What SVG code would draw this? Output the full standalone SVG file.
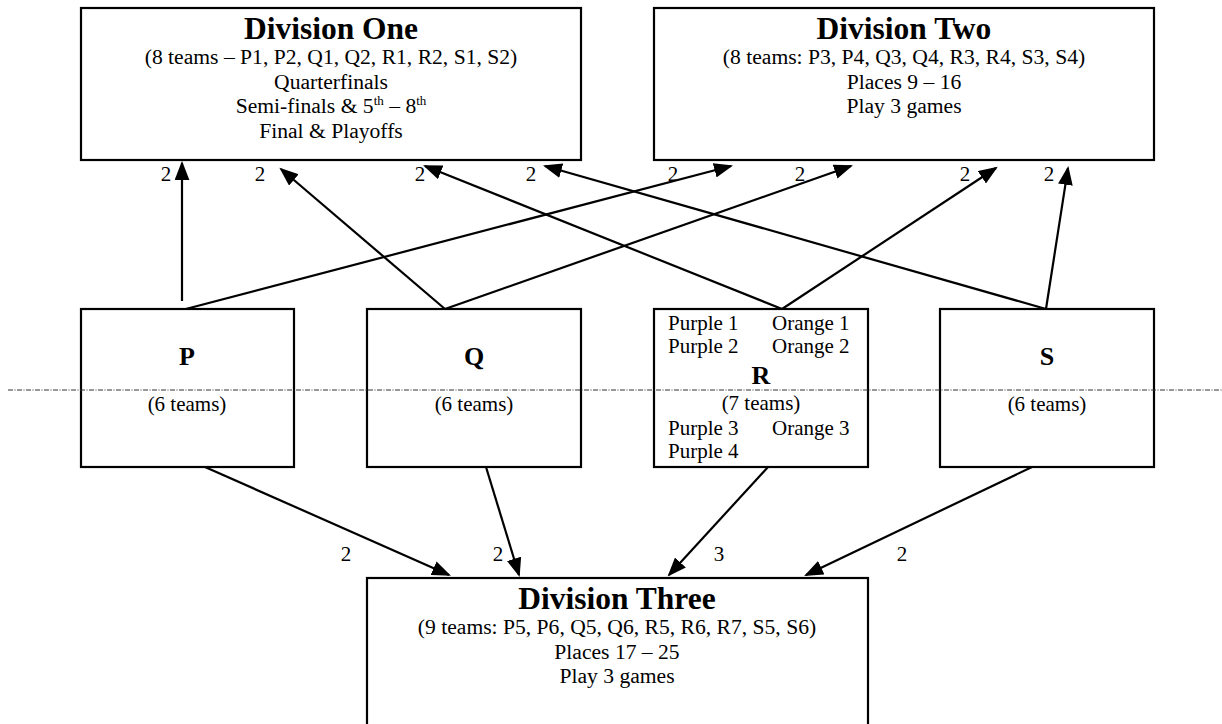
<svg xmlns="http://www.w3.org/2000/svg" width="1222" height="724" viewBox="0 0 1222 724">
<style>
.box{fill:#fff;stroke:#000;stroke-width:2.2}
.title{font-family:"Liberation Serif","Times New Roman",serif;font-weight:bold;font-size:31.5px;text-anchor:middle;fill:#000}
.t{font-family:"Liberation Serif","Times New Roman",serif;font-size:21px;fill:#000}
.d{font-size:21.6px}
.c{text-anchor:middle}
.big{font-family:"Liberation Serif","Times New Roman",serif;font-weight:bold;font-size:26px;text-anchor:middle;fill:#000}
.sup{font-size:13px}
.conn line{stroke:#000;stroke-width:2.2;marker-end:url(#ah)}
.lbl{font-family:"Liberation Serif","Times New Roman",serif;font-size:21px;fill:#000;text-anchor:middle}
</style>
<defs>
<marker id="ah" markerUnits="userSpaceOnUse" markerWidth="19" markerHeight="15" refX="16" refY="7" orient="auto" viewBox="0 0 18 14">
<path d="M0,0 L18,7 L0,14 z" fill="#000"/>
</marker>
</defs>
<rect width="1222" height="724" fill="#fff"/>

<g id="connectors" class="conn">
<line x1="182" y1="301" x2="182" y2="163"/>
<line x1="182" y1="310" x2="731" y2="166"/>
<line x1="445" y1="309" x2="281" y2="169"/>
<line x1="445" y1="309" x2="851" y2="166"/>
<line x1="782" y1="309" x2="425" y2="166"/>
<line x1="782" y1="309" x2="996" y2="168"/>
<line x1="1046" y1="309" x2="545" y2="166"/>
<line x1="1046" y1="309" x2="1068" y2="168"/>
<line x1="205" y1="467" x2="449" y2="575"/>
<line x1="486" y1="467" x2="519" y2="575"/>
<line x1="768" y1="467" x2="669" y2="575"/>
<line x1="1032" y1="467" x2="806" y2="575"/>
</g>

<g id="labels">
<text class="lbl" x="166" y="181">2</text>
<text class="lbl" x="260" y="181">2</text>
<text class="lbl" x="420" y="181">2</text>
<text class="lbl" x="531" y="181">2</text>
<text class="lbl" x="673" y="181">2</text>
<text class="lbl" x="800" y="181">2</text>
<text class="lbl" x="965" y="181">2</text>
<text class="lbl" x="1049" y="181">2</text>
<text class="lbl" x="346" y="561">2</text>
<text class="lbl" x="498" y="561">2</text>
<text class="lbl" x="719" y="561">3</text>
<text class="lbl" x="902" y="561">2</text>
</g>

<g id="div-one">
<rect class="box" x="81" y="8" width="500" height="152"/>
<text class="title" x="331" y="39">Division One</text>
<text class="t d c" x="331" y="64">(8 teams – P1, P2, Q1, Q2, R1, R2, S1, S2)</text>
<text class="t d c" x="331" y="89">Quarterfinals</text>
<text class="t d c" x="331" y="113">Semi-finals &amp; 5<tspan class="sup" dy="-8">th</tspan><tspan dy="8"> – 8</tspan><tspan class="sup" dy="-8">th</tspan></text>
<text class="t d c" x="331" y="138">Final &amp; Playoffs</text>
</g>

<g id="div-two">
<rect class="box" x="654" y="8" width="500" height="152"/>
<text class="title" x="904" y="39">Division Two</text>
<text class="t d c" x="904" y="64">(8 teams: P3, P4, Q3, Q4, R3, R4, S3, S4)</text>
<text class="t d c" x="904" y="89">Places 9 – 16</text>
<text class="t d c" x="904" y="113">Play 3 games</text>
</g>

<g id="group-p">
<rect class="box" x="81" y="309" width="213" height="158"/>
<text class="big" x="187" y="365">P</text>
<text class="t c" x="187" y="411">(6 teams)</text>
</g>

<g id="group-q">
<rect class="box" x="367" y="309" width="214" height="158"/>
<text class="big" x="474" y="365">Q</text>
<text class="t c" x="474" y="411">(6 teams)</text>
</g>

<g id="group-r">
<rect class="box" x="654" y="309" width="214" height="158"/>
<text class="t" x="668" y="330">Purple 1</text>
<text class="t" x="772" y="330">Orange 1</text>
<text class="t" x="668" y="353">Purple 2</text>
<text class="t" x="772" y="353">Orange 2</text>
<text class="big" x="761" y="384">R</text>
<text class="t c" x="761" y="410">(7 teams)</text>
<text class="t" x="668" y="435">Purple 3</text>
<text class="t" x="772" y="435">Orange 3</text>
<text class="t" x="668" y="458">Purple 4</text>
</g>

<g id="group-s">
<rect class="box" x="940" y="309" width="214" height="158"/>
<text class="big" x="1047" y="365">S</text>
<text class="t c" x="1047" y="411">(6 teams)</text>
</g>

<g id="div-three">
<rect class="box" x="367" y="578" width="501" height="170"/>
<text class="title" x="617" y="609">Division Three</text>
<text class="t d c" x="617" y="634">(9 teams: P5, P6, Q5, Q6, R5, R6, R7, S5, S6)</text>
<text class="t d c" x="617" y="659">Places 17 – 25</text>
<text class="t d c" x="617" y="683">Play 3 games</text>
</g>

<g id="divider">
<line x1="8" y1="390" x2="1222" y2="390" stroke="#333" stroke-width="1" stroke-dasharray="5 1.5 1 1.5"/>
</g>
</svg>
